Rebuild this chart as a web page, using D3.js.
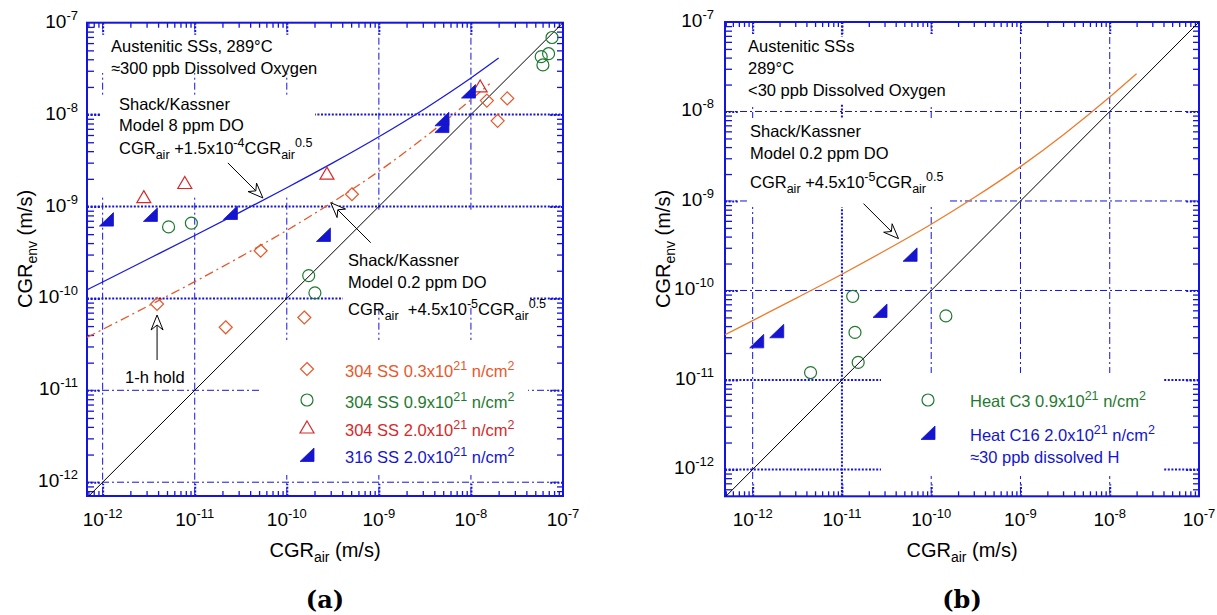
<!DOCTYPE html>
<html><head><meta charset="utf-8">
<script src="https://cdn.jsdelivr.net/npm/d3@7"></script>
<style>
body{margin:0;background:#fff;}
svg{display:block;}
text{font-family:"Liberation Sans",Arial,Helvetica,sans-serif;}
</style>
</head><body>
<svg id="c" width="1217" height="615"></svg>
<script>
// ---------------- DATA ----------------
const decadeExps = [-12, -11, -10, -9, -8, -7];
const tickSupLabels = ["-12", "-11", "-10", "-9", "-8", "-7"];

// Panel (a): ~300 ppb DO  [CGR_air, CGR_env] in m/s
const a_ss304_03 = [[3.9e-12,8.7e-11],[2.17e-11,4.85e-11],[5.2e-11,3.3e-10],[1.55e-10,6.2e-11],[5.1e-10,1.36e-9],[1.49e-8,1.42e-8],[1.95e-8,8.55e-9],[2.48e-8,1.5e-8]];
const a_ss304_09 = [[5.2e-12,6.0e-10],[9.2e-12,6.6e-10],[1.73e-10,1.77e-10],[2.02e-10,1.15e-10],[7.6e-8,6.9e-8],[6.97e-8,4.6e-8],[5.8e-8,4.27e-8],[6.05e-8,3.47e-8]];
const a_ss304_20 = [[2.8e-12,1.25e-9],[7.8e-12,1.78e-9],[2.73e-10,2.25e-9],[1.26e-8,2.0e-8]];
const a_ss316_20 = [[1.1e-12,7.2e-10],[3.3e-12,8.1e-10],[2.44e-11,8.5e-10],[2.5e-10,4.9e-10],[4.84e-9,8.9e-9],[4.84e-9,7.5e-9],[9.4e-9,1.78e-8]];
const a_model8ppm = [[6.76e-13,1.24e-10],[1e-12,1.51e-10],[3.16e-12,2.70e-10],[1e-11,4.84e-10],[3.16e-11,8.75e-10],[1e-10,1.6e-9],[3.16e-10,2.98e-9],[1e-9,5.74e-9],[3.16e-9,1.16e-8],[1e-8,2.5e-8],[2e-8,4.12e-8]];
const a_model02ppm = [[6.76e-13,3.77e-11],[1e-12,4.6e-11],[3.16e-12,8.32e-11],[1e-11,1.52e-10],[3.16e-11,2.85e-10],[1e-10,5.5e-10],[3.16e-10,1.12e-9],[1e-9,2.42e-9],[3.16e-9,5.69e-9],[1e-8,1.45e-8],[1.6e-8,2.17e-8]];
const a_oneToOne = [[6.76e-13,6.76e-13],[1e-7,1e-7]];

// Panel (b): <30 ppb DO
const b_heatC3 = [[4.45e-12,1.21e-11],[1.32e-11,8.6e-11],[1.4e-11,3.4e-11],[1.52e-11,1.57e-11],[1.46e-10,5.2e-11]];
const b_heatC16 = [[1.11e-12,2.7e-11],[1.86e-12,3.5e-11],[2.67e-11,5.9e-11],[5.8e-11,2.5e-10]];
const b_model02ppm = [[4.9e-13,3.2e-11],[1e-12,4.6e-11],[3.16e-12,8.32e-11],[1e-11,1.52e-10],[3.16e-11,2.85e-10],[1e-10,5.5e-10],[3.16e-10,1.12e-9],[1e-9,2.42e-9],[3.16e-9,5.69e-9],[1e-8,1.45e-8],[2e-8,2.64e-8]];
const b_oneToOne = [[4.9e-13,4.9e-13],[1e-7,1e-7]];

// ---------------- STYLE ----------------
const BLUE = "#1414e0";
const C_ORANGE_A = "#e8582a", C_GREEN = "#1f7a30", C_RED = "#d62a2a", C_BLUE = "#1515d0", C_ORANGE_B = "#f07a2a";
const svg = d3.select("#c");

const marker = {
  diamond: "M0,-6.5L6.5,0L0,6.5L-6.5,0Z",
  triangle: "M0,-7L7,5L-7,5Z",
  half: "M-7,6.5L7,6.5L7,-7Z"
};

function rich(parent, x, y, parts, o) {
  const t = parent.append("text").attr("x", x).attr("y", y)
    .attr("font-size", o.size).attr("fill", o.fill || "#000")
    .attr("text-anchor", o.anchor || "start").style("white-space", "pre");
  if (o.transform) t.attr("transform", o.transform);
  let cur = 0;
  parts.forEach(p => {
    const s = Array.isArray(p) ? p[0] : p, k = Array.isArray(p) ? p[1] : "n";
    const off = k === "sub" ? o.sub : (k === "sup" ? -o.sup : 0);
    t.append("tspan").attr("dy", off - cur).attr("font-size", k === "n" ? o.size : o.small).text(s);
    cur = off;
  });
  return t;
}
const ANN = {size: 16.5, small: 12.5, sub: 5, sup: 7};

function arrow(g, tip, dx, dy) {
  const [tx, ty] = tip;
  const ang = Math.atan2(-dy, -dx);
  const sx = tx + dx, sy = ty + dy;
  const L = 15, Wd = 6, N = 10;
  const c = Math.cos(ang), s = Math.sin(ang);
  const pt = (u, v) => [tx + u * c - v * s, ty + u * s + v * c];
  const notch = pt(-N, 0);
  g.append("line").attr("x1", sx).attr("y1", sy).attr("x2", notch[0]).attr("y2", notch[1])
    .attr("stroke", "#000").attr("stroke-width", 1);
  g.append("path").attr("d", "M" + [pt(0,0), pt(-L,-Wd), notch, pt(-L,Wd)].map(p => p.join(",")).join("L") + "Z")
    .attr("fill", "#fff").attr("stroke", "#000").attr("stroke-width", 1);
}

function drawPanel(P) {
  const g = svg.append("g");
  const x = d3.scaleLog().domain(P.xDom).range([P.x0, P.x1]);
  const y = d3.scaleLog().domain(P.yDom).range([P.y1, P.y0]);
  const clipId = "clip" + P.id;
  svg.append("defs").append("clipPath").attr("id", clipId)
    .append("rect").attr("x", P.x0).attr("y", P.y0).attr("width", P.x1 - P.x0).attr("height", P.y1 - P.y0);

  const majors = decadeExps.map(e => Math.pow(10, e));
  const inX = majors.filter(v => v > P.xDom[0] * 1.001 && v < P.xDom[1] * 0.999);
  const inY = majors.filter(v => v > P.yDom[0] * 1.001 && v < P.yDom[1] * 0.999);
  const thin = {stroke: BLUE, w: 1, dash: "7,3,2,3"};
  const thick = {stroke: BLUE, w: 2, dash: "2,1.6"};
  const grid = g.append("g");
  inX.forEach(v => {
    const st = P.thickV.includes(Math.round(Math.log10(v))) ? thick : thin;
    grid.append("line").attr("x1", x(v)).attr("x2", x(v)).attr("y1", P.y0).attr("y2", P.y1)
      .attr("stroke", st.stroke).attr("stroke-width", st.w).attr("stroke-dasharray", st.dash);
  });
  inY.forEach(v => {
    const st = P.thickH.includes(Math.round(Math.log10(v))) ? thick : thin;
    grid.append("line").attr("y1", y(v)).attr("y2", y(v)).attr("x1", P.x0).attr("x2", P.x1)
      .attr("stroke", st.stroke).attr("stroke-width", st.w).attr("stroke-dasharray", st.dash);
  });
  P.boxes.forEach(b => g.append("rect").attr("x", b[0]).attr("y", b[1]).attr("width", b[2]).attr("height", b[3]).attr("fill", "#fff"));

  const minors = [];
  for (let d = -13; d <= -8; d++) for (let m = 2; m <= 9; m++) minors.push(m * Math.pow(10, d));
  const mx = minors.filter(v => v >= P.xDom[0] && v <= P.xDom[1]);
  const my = minors.filter(v => v >= P.yDom[0] && v <= P.yDom[1]);
  const styleAxis = (s, w, dash) => { s.select(".domain").remove(); s.selectAll("line").attr("stroke", BLUE).attr("stroke-width", w).attr("stroke-dasharray", dash || null); };
  g.append("g").attr("transform", `translate(0,${P.y1})`).call(d3.axisBottom(x).tickValues(mx).tickSize(-5).tickFormat("")).call(s => styleAxis(s, 1.3));
  g.append("g").attr("transform", `translate(0,${P.y0})`).call(d3.axisTop(x).tickValues(mx).tickSize(-5).tickFormat("")).call(s => styleAxis(s, 1.3));
  g.append("g").attr("transform", `translate(${P.x0},0)`).call(d3.axisLeft(y).tickValues(my).tickSize(-7).tickFormat("")).call(s => styleAxis(s, 1.3));
  g.append("g").attr("transform", `translate(${P.x1},0)`).call(d3.axisRight(y).tickValues(my).tickSize(-6).tickFormat("")).call(s => styleAxis(s, 1.3));
  g.append("g").attr("transform", `translate(0,${P.y1})`).call(d3.axisBottom(x).tickValues(inX).tickSize(-12).tickFormat("")).call(s => styleAxis(s, 2, "2,1.6"));
  g.append("g").attr("transform", `translate(0,${P.y0})`).call(d3.axisTop(x).tickValues(inX).tickSize(-12).tickFormat("")).call(s => styleAxis(s, 2, "2,1.6"));
  g.append("g").attr("transform", `translate(${P.x0},0)`).call(d3.axisLeft(y).tickValues(inY).tickSize(-14).tickFormat("")).call(s => styleAxis(s, 2, "2,1.6"));
  g.append("g").attr("transform", `translate(${P.x1},0)`).call(d3.axisRight(y).tickValues(inY).tickSize(-14).tickFormat("")).call(s => styleAxis(s, 2, "2,1.6"));
  g.append("rect").attr("x", P.x0).attr("y", P.y0).attr("width", P.x1 - P.x0).attr("height", P.y1 - P.y0)
    .attr("fill", "none").attr("stroke", BLUE).attr("stroke-width", 2);

  const TL = {size: 19, small: 13, sub: 0, sup: 8};
  decadeExps.forEach((e, i) => {
    const v = Math.pow(10, e);
    if (v >= P.xDom[0] && v <= P.xDom[1] * 1.001)
      rich(g, x(v), P.y1 + 30, ["10", [tickSupLabels[i], "sup"]], Object.assign({anchor: "middle"}, TL));
    if (v >= P.yDom[0] && v <= P.yDom[1] * 1.001)
      rich(g, P.x0 - P.ylabGap, y(v) + 5, ["10", [tickSupLabels[i], "sup"]], Object.assign({anchor: "end"}, TL));
  });
  const AT = {size: 20, small: 14, sub: 5, sup: 7};
  rich(g, (P.x0 + P.x1) / 2, 557, ["CGR", ["air", "sub"], " (m/s)"], Object.assign({anchor: "middle"}, AT));
  rich(g, 0, 0, ["CGR", ["env", "sub"], " (m/s)"], Object.assign({anchor: "middle", transform: `translate(${P.ytitleX},249) rotate(-90)`}, AT));
  g.append("text").attr("x", (P.x0 + P.x1) / 2).attr("y", 608).attr("text-anchor", "middle")
    .attr("font-size", 24).attr("font-weight", "bold").style("font-family", '"DejaVu Serif", serif').text(P.label);

  const plot = g.append("g").attr("clip-path", `url(#${clipId})`);
  const line = d3.line().x(d => x(d[0])).y(d => y(d[1])).curve(d3.curveMonotoneX);
  return {g, plot, x, y, line};
}

// ---------------- PANEL A ----------------
const A = drawPanel({
  id: "a", label: "(a)", x0: 87, x1: 563, y0: 22.7, y1: 496,
  xDom: [Math.pow(10, -12.17), 1e-7], yDom: [Math.pow(10, -12.15), 1e-7],
  thickH: [-8, -9, -10], thickV: [], ylabGap: 9, ytitleX: 32,
  boxes: [[100, 33, 222, 40], [100, 97, 215, 98], [343, 210, 187, 98], [259, 340, 269, 135]]
});
A.plot.append("path").attr("d", A.line(a_oneToOne)).attr("fill", "none").attr("stroke", "#000").attr("stroke-width", 1);
A.plot.append("path").attr("d", A.line(a_model8ppm)).attr("fill", "none").attr("stroke", "#1a1ae6").attr("stroke-width", 1.3);
A.plot.append("path").attr("d", A.line(a_model02ppm)).attr("fill", "none").attr("stroke", C_ORANGE_A).attr("stroke-width", 1.3).attr("stroke-dasharray", "9,4,2,4");

function pts(P, data, d, opt) {
  P.plot.selectAll(null).data(data).enter().append("path")
    .attr("transform", p => `translate(${P.x(p[0])},${P.y(p[1])})`)
    .attr("d", d).attr("fill", opt.fill || "none").attr("stroke", opt.stroke).attr("stroke-width", opt.sw || 1.2);
}
const circ = "M6,0A6,6 0 1,1 -6,0A6,6 0 1,1 6,0Z";
pts(A, a_ss304_03, marker.diamond, {stroke: C_ORANGE_A});
pts(A, a_ss304_09, circ, {stroke: C_GREEN});
pts(A, a_ss304_20, marker.triangle, {stroke: C_RED});
pts(A, a_ss316_20, marker.half, {stroke: C_BLUE, fill: C_BLUE, sw: 0.8});

rich(A.g, 111, 52, ["Austenitic SSs, 289°C"], ANN);
rich(A.g, 111, 74, ["≈300 ppb Dissolved Oxygen"], ANN);
rich(A.g, 119, 110, ["Shack/Kassner"], ANN);
rich(A.g, 119, 131, ["Model 8 ppm DO"], ANN);
rich(A.g, 119, 154, ["CGR", ["air", "sub"], " +1.5x10", ["-4", "sup"], "CGR", ["air", "sub"], ["0.5", "sup"]], ANN);
rich(A.g, 348, 266, ["Shack/Kassner"], ANN);
rich(A.g, 348, 288, ["Model 0.2 ppm DO"], ANN);
rich(A.g, 348, 315, ["CGR", ["air", "sub"], "  +4.5x10", ["-5", "sup"], "CGR", ["air", "sub"], ["0.5", "sup"]], ANN);
rich(A.g, 125, 383, ["1-h hold"], ANN);
arrow(A.g, [A.x(5.5e-11), A.y(1.24e-9)], -35, -35);
arrow(A.g, [A.x(3.0e-10), A.y(1.1e-9)], 40, 40);
arrow(A.g, [A.x(3.9e-12), A.y(6.6e-11)], 0, 45);

const legA = [
  {d: marker.diamond, c: C_ORANGE_A, fill: "none", txt: "304 SS 0.3x10", yb: 377},
  {d: circ, c: C_GREEN, fill: "none", txt: "304 SS 0.9x10", yb: 408},
  {d: marker.triangle, c: C_RED, fill: "none", txt: "304 SS 2.0x10", yb: 436},
  {d: marker.half, c: C_BLUE, fill: C_BLUE, txt: "316 SS 2.0x10", yb: 463}
];
legA.forEach(l => {
  A.g.append("path").attr("transform", `translate(307,${l.yb - 8})`).attr("d", l.d)
    .attr("fill", l.fill).attr("stroke", l.c).attr("stroke-width", l.fill === "none" ? 1.2 : 0.8);
  rich(A.g, 345, l.yb, [l.txt, ["21", "sup"], " n/cm", ["2", "sup"]], Object.assign({fill: l.c}, ANN));
});

// ---------------- PANEL B ----------------
const B = drawPanel({
  id: "b", label: "(b)", x0: 725, x1: 1199, y0: 22, y1: 496.3,
  xDom: [Math.pow(10, -12.31), 1e-7], yDom: [Math.pow(10, -12.3), 1e-7],
  thickH: [-11, -12], thickV: [-11], ylabGap: 11, ytitleX: 670,
  boxes: [[740, 37, 220, 67], [750, 118, 200, 89], [881, 373, 282, 103]]
});
B.plot.append("path").attr("d", B.line(b_oneToOne)).attr("fill", "none").attr("stroke", "#000").attr("stroke-width", 1);
B.plot.append("path").attr("d", B.line(b_model02ppm)).attr("fill", "none").attr("stroke", C_ORANGE_B).attr("stroke-width", 1.3);
pts(B, b_heatC3, circ, {stroke: C_GREEN});
pts(B, b_heatC16, marker.half, {stroke: C_BLUE, fill: C_BLUE, sw: 0.8});

rich(B.g, 748, 52, ["Austenitic SSs"], ANN);
rich(B.g, 748, 74, ["289°C"], ANN);
rich(B.g, 748, 96, ["<30 ppb Dissolved Oxygen"], ANN);
rich(B.g, 750, 137, ["Shack/Kassner"], ANN);
rich(B.g, 750, 159, ["Model 0.2 ppm DO"], ANN);
rich(B.g, 750, 188, ["CGR", ["air", "sub"], " +4.5x10", ["-5", "sup"], "CGR", ["air", "sub"], ["0.5", "sup"]], ANN);
arrow(B.g, [B.x(4.3e-11), B.y(3.8e-10)], -35, -35);

B.g.append("path").attr("transform", "translate(928,400)").attr("d", circ).attr("fill", "none").attr("stroke", C_GREEN).attr("stroke-width", 1.2);
rich(B.g, 970, 407, ["Heat C3 0.9x10", ["21", "sup"], " n/cm", ["2", "sup"]], Object.assign({fill: C_GREEN}, ANN));
B.g.append("path").attr("transform", "translate(928,433)").attr("d", marker.half).attr("fill", C_BLUE).attr("stroke", C_BLUE).attr("stroke-width", 0.8);
rich(B.g, 970, 441, ["Heat C16 2.0x10", ["21", "sup"], " n/cm", ["2", "sup"]], Object.assign({fill: C_BLUE}, ANN));
rich(B.g, 970, 463, ["≈30 ppb dissolved H"], Object.assign({fill: C_BLUE}, ANN));
</script>
</body></html>
